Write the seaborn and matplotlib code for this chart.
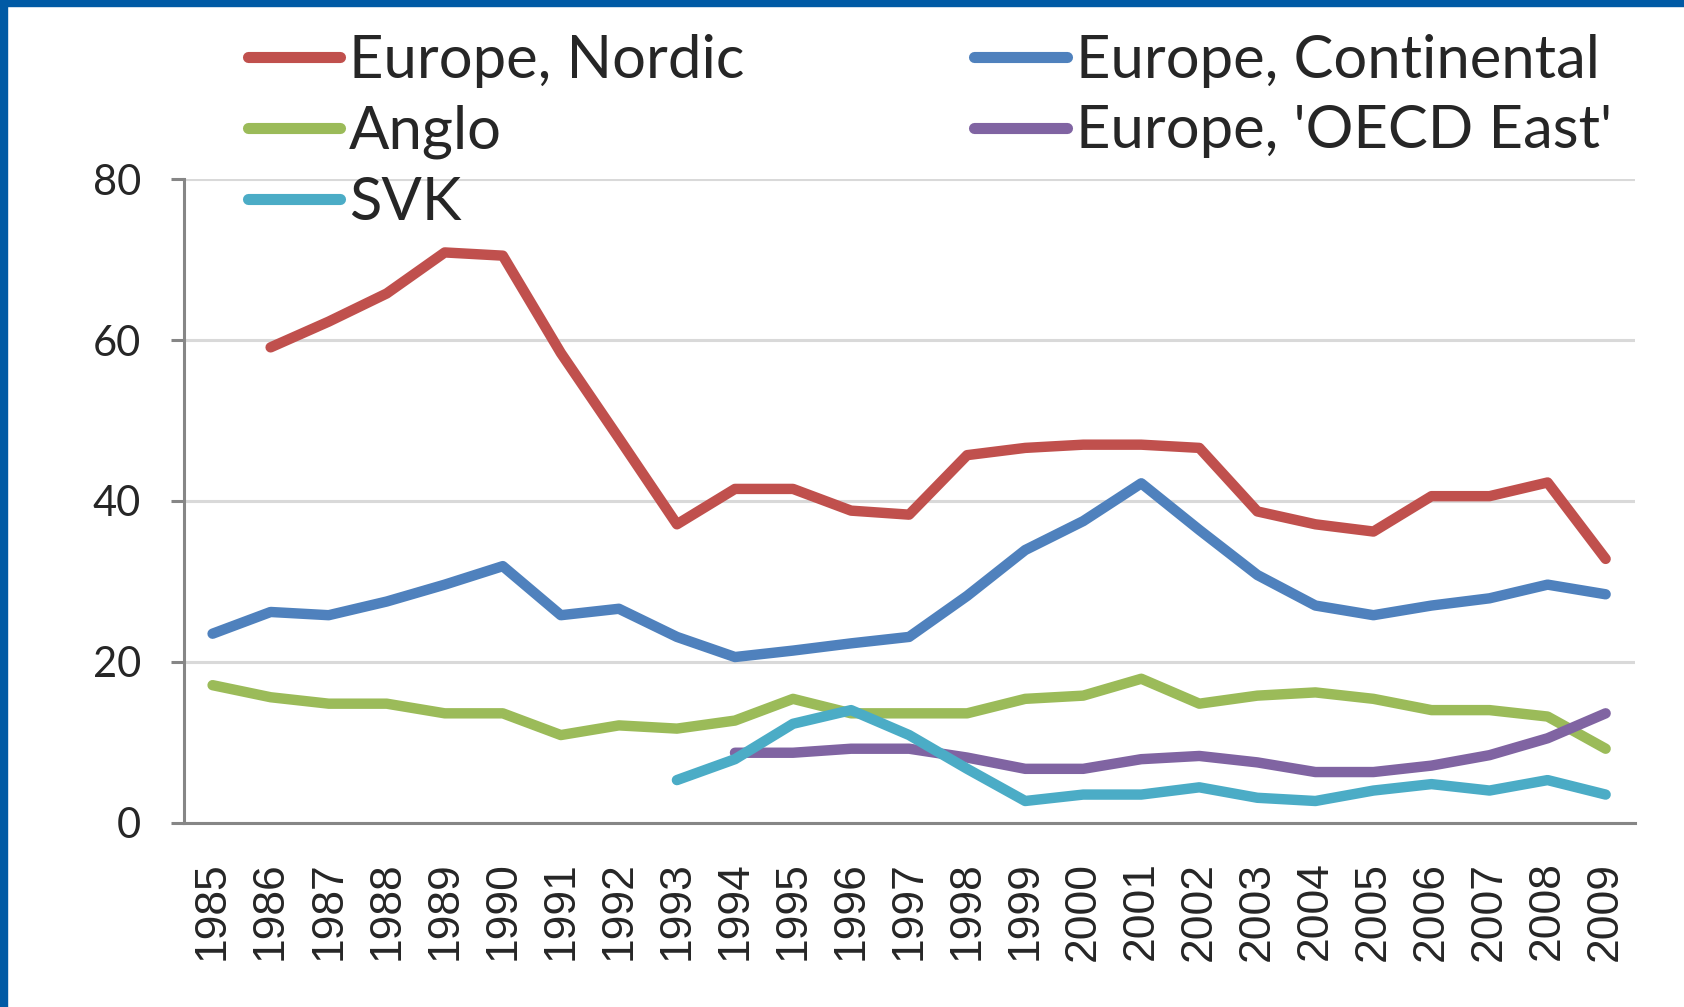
import matplotlib
matplotlib.use("Agg")
import matplotlib.pyplot as plt
from matplotlib.lines import Line2D
from matplotlib.patches import Rectangle
import numpy as np
import pandas as pd
import seaborn as sns

# Werte (nan = kein Wert)
years = list(range(1985, 2010))
nordic = [np.nan, 59.1, 62.3, 65.8, 70.9, 70.5, 58.4, 47.8, 37.1, 41.5, 41.5, 38.8, 38.3,
          45.7, 46.6, 47.0, 47.0, 46.6, 38.7, 37.1, 36.2, 40.6, 40.6, 42.3, 32.8]
continental = [23.5, 26.2, 25.8, 27.5, 29.6, 31.9, 25.8, 26.6, 23.1, 20.6, 21.4, 22.3, 23.1,
               28.2, 33.9, 37.5, 42.2, 36.4, 30.8, 27.0, 25.8, 27.0, 27.9, 29.6, 28.4]
anglo = [17.1, 15.6, 14.8, 14.8, 13.6, 13.6, 10.9, 12.1, 11.7, 12.7, 15.4, 13.6, 13.6,
         13.6, 15.4, 15.8, 17.9, 14.8, 15.8, 16.2, 15.4, 14.0, 14.0, 13.2, 9.2]
oecd_east = [np.nan] * 9 + [8.7, 8.7, 9.2, 9.2, 8.1, 6.7, 6.7, 7.9, 8.3, 7.5, 6.3, 6.3,
                             7.1, 8.4, 10.5, 13.6]
svk = [np.nan] * 8 + [5.3, 7.9, 12.3, 14.0, 10.9, 6.7, 2.7, 3.5, 3.5, 4.4, 3.1, 2.7, 4.0,
                      4.8, 4.0, 5.3, 3.5]

series_names = ["Europe, Nordic", "Europe, Continental", "Anglo", "Europe, 'OECD East'", "SVK"]
series_values = [nordic, continental, anglo, oecd_east, svk]
colors = ["#C0504D", "#4F81BD", "#9BBB59", "#8064A2", "#4BACC6"]
y_ticks = [0, 20, 40, 60, 80]

rows = []
for name, vals in zip(series_names, series_values):
    for yr, v in zip(years, vals):
        if not np.isnan(v):
            rows.append({"year": yr, "value": v, "series": name})
df = pd.DataFrame(rows)

sns.set_style("white")
plt.rcParams['font.family'] = ['Lato', 'DejaVu Sans']

fig = plt.figure(figsize=(16.84, 10.07), dpi=100)
ax = fig.add_axes([0.109, 0.183, 0.8617, 0.639])

palette = dict(zip(series_names, colors))
sns.lineplot(data=df, x="year", y="value", hue="series", hue_order=series_names,
             palette=palette, linewidth=7.5, ax=ax, legend=False,
             solid_capstyle='round', solid_joinstyle='round')

grey = "#868686"
ax.set_xlim(1984.5, 2009.5)
ax.set_ylim(0, 80)
ax.set_yticks(y_ticks)
ax.set_yticklabels([str(t) for t in y_ticks], fontsize=30)
ax.yaxis.grid(True, color="#D9D9D9", linewidth=2.2)
ax.set_axisbelow(True)

ax.set_xticks(years)
ax.set_xticklabels([str(y) for y in years], rotation=90, fontsize=32,
                   family=['Liberation Sans', 'DejaVu Sans'])
ax.set_xticks([y - 0.5 for y in years] + [2009.5], minor=True)
ax.tick_params(axis='x', which='major', length=0, pad=28)
ax.tick_params(axis='x', which='minor', length=12, width=2.2, color=grey, direction='out')
ax.tick_params(axis='y', length=9.5, width=2.2, color=grey, direction='out', pad=21, left=True)
ax.set_xlabel("")
ax.set_ylabel("")

for side in ["top", "right"]:
    ax.spines[side].set_visible(False)
for side in ["left", "bottom"]:
    ax.spines[side].set_color(grey)
    ax.spines[side].set_linewidth(2.2)

# Legende zeilenweise wie im Original (Spalten werden von matplotlib gefuellt)
leg_order = [0, 2, 4, 1, 3]
handles = [Line2D([0], [0], color=colors[i], lw=8, solid_capstyle='round') for i in leg_order]
labels = [series_names[i] for i in leg_order]
fig.legend(handles, labels, ncol=2, loc='upper left', bbox_to_anchor=(0.147, 0.9665),
           frameon=False, fontsize=43, handlelength=1.55, handletextpad=0.15,
           labelspacing=0.28, columnspacing=3.85, borderpad=0, borderaxespad=0)

# blauer Rahmen links und oben
fig.patches.append(Rectangle((0, 0), 7 / 1684, 1, transform=fig.transFigure,
                             color="#005AA5", zorder=10))
fig.patches.append(Rectangle((0, 1 - 6 / 1007), 1, 6 / 1007, transform=fig.transFigure,
                             color="#005AA5", zorder=10))

fig.savefig("out.png", dpi=100)
